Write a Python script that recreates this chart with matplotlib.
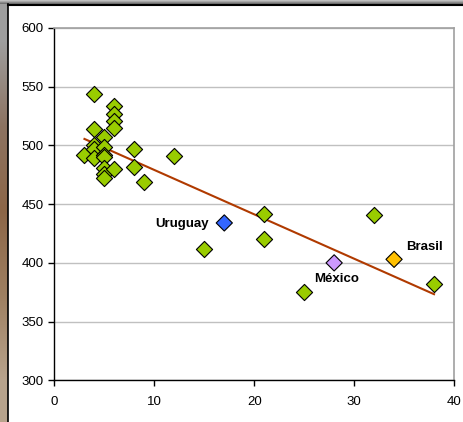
import matplotlib
matplotlib.use('Agg')
import matplotlib.pyplot as plt
import numpy as np

plt.rcParams['font.family'] = ['Liberation Sans', 'DejaVu Sans']

# puntos verdes (resto de países)
x_otros = [3, 4, 4, 4, 4, 4, 5, 5, 5, 5, 5, 5, 5, 6, 6, 6, 6, 6, 8, 8, 9, 12,
           15, 21, 21, 25, 32, 38]
y_otros = [492, 544, 514, 500, 497, 489, 507, 499, 492, 490, 481, 476, 472,
           534, 527, 521, 515, 480, 497, 482, 469, 491,
           412, 442, 420, 375, 441, 382]

# países destacados
paises = ['Uruguay', 'México', 'Brasil']
x_paises = [17, 28, 34]
y_paises = [434, 400, 403]
colores_paises = ['#3366FF', '#CC99FF', '#FFC000']

x_todos = np.array(x_otros + x_paises)
y_todos = np.array(y_otros + y_paises)
pend, inter = np.polyfit(x_todos, y_todos, 1)

fig = plt.figure(figsize=(4.64, 4.22), dpi=100)

# franja de fondo a la izquierda (captura de pantalla)
ax_bg = fig.add_axes([0, 0, 8 / 464, 1])
grad = np.array([[0.62, 0.62, 0.62], [0.55, 0.45, 0.38], [0.55, 0.40, 0.28],
                 [0.62, 0.50, 0.38], [0.72, 0.64, 0.55]])
ax_bg.imshow(grad[:, None, :], aspect='auto', interpolation='bilinear')
ax_bg.axis('off')
ax_top = fig.add_axes([0, 1 - 4 / 422, 1, 4 / 422])
ax_top.imshow(np.array([[0.75], [0.6], [0.45]])[:, :, None].repeat(3, axis=2),
              aspect='auto', interpolation='bilinear')
ax_top.axis('off')
fig.add_artist(plt.Line2D([8.5 / 464, 8.5 / 464], [0, 1 - 3.5 / 422],
                          color='black', lw=1.2))
fig.add_artist(plt.Line2D([8.5 / 464, 1], [1 - 4.5 / 422, 1 - 4.5 / 422],
                          color='black', lw=1.5))

ax = fig.add_axes([54.5 / 464, 1 - 380.3 / 422, (454 - 54.5) / 464,
                   (380.3 - 28) / 422])
ax.set_xlim(0, 40)
ax.set_ylim(300, 600)
ax.set_xticks([0, 10, 20, 30, 40])
ax.set_yticks([300, 350, 400, 450, 500, 550, 600])
ax.yaxis.grid(True, color='#C0C0C0', lw=1)
ax.set_axisbelow(True)
for lado in ['top', 'right']:
    ax.spines[lado].set_color('#A0A0A0')
    ax.spines[lado].set_linewidth(1.2)
for lado in ['left', 'bottom']:
    ax.spines[lado].set_color('black')
    ax.spines[lado].set_linewidth(1)
ax.tick_params(direction='out', length=4, width=1, labelsize=9.5,
               colors='black')
ax.tick_params(axis='y', pad=4)
ax.tick_params(axis='x', pad=7)

xs = np.array([3, 38])
ax.plot(xs, pend * xs + inter, color='#B03A00', lw=1.5, zorder=2)

ax.scatter(x_otros, y_otros, marker='D', s=68, color='#99CC00',
           edgecolors='black', linewidths=0.8, zorder=3)
ax.scatter(x_paises, y_paises, marker='D', s=68, c=colores_paises,
           edgecolors='black', linewidths=0.8, zorder=3)

ax.text(x_paises[0] - 1.5, y_paises[0] - 1, paises[0], ha='right',
        va='center', fontsize=9.5, fontweight='bold')
ax.text(x_paises[1] + 0.2, y_paises[1] - 13.7, paises[1], ha='center',
        va='center', fontsize=9.5, fontweight='bold')
ax.text(x_paises[2] + 3.0, y_paises[2] + 10.8, paises[2], ha='center',
        va='center', fontsize=9.5, fontweight='bold')

fig.savefig('out.png', dpi=100)
